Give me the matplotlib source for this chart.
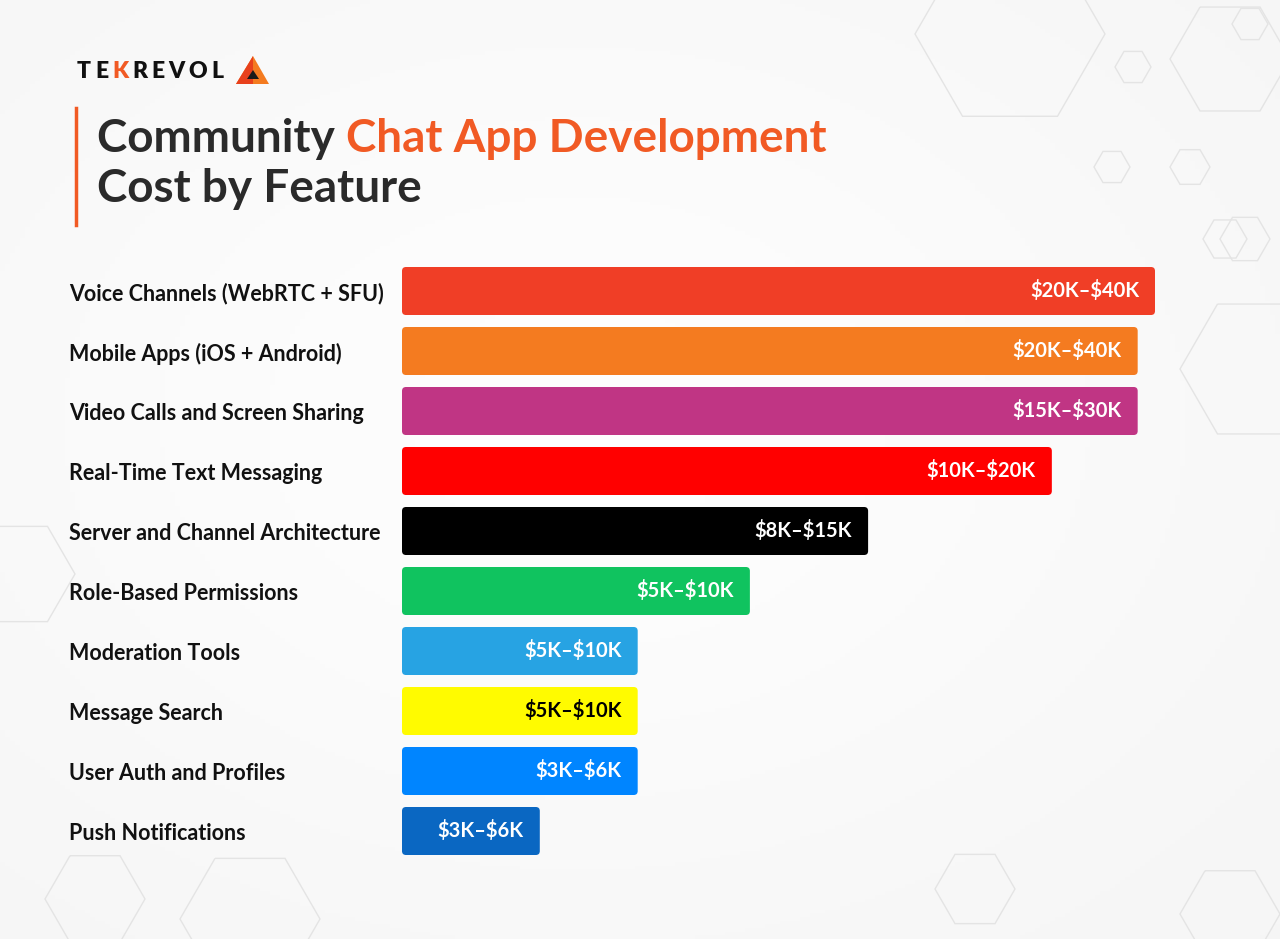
import matplotlib
matplotlib.use('Agg')
import matplotlib.pyplot as plt
from matplotlib.patches import FancyBboxPatch, Polygon, RegularPolygon
from matplotlib.lines import Line2D
import numpy as np

#-------------------------------------------------------------------------------
# Data
#-------------------------------------------------------------------------------
features = ['Voice Channels (WebRTC + SFU)', 'Mobile Apps (iOS + Android)',
            'Video Calls and Screen Sharing', 'Real-Time Text Messaging',
            'Server and Channel Architecture', 'Role-Based Permissions',
            'Moderation Tools', 'Message Search', 'User Auth and Profiles',
            'Push Notifications']
# relative bar length (longest = 100)
scores = [100, 97.7, 97.7, 86.3, 61.9, 46.2, 31.3, 31.3, 31.3, 18.3]
cost_labels = ['$20K–$40K', '$20K–$40K', '$15K–$30K', '$10K–$20K', '$8K–$15K',
               '$5K–$10K', '$5K–$10K', '$5K–$10K', '$3K–$6K', '$3K–$6K']
colors = ['#f03e26', '#f47b20', '#c03584', '#ff0000', '#000000',
          '#10c35f', '#27a3e3', '#fffb00', '#0085ff', '#0a67c2']
text_colors = ['white'] * 7 + ['black'] + ['white'] * 2

FONT = 'Lato'
W, H = 1280, 939
plt.rcParams['text.parse_math'] = False

fig = plt.figure(figsize=(W / 100, H / 100), dpi=100)
fig.patch.set_facecolor('#f4f4f4')

# faint background gradient + hexagons
bg = fig.add_axes([0, 0, 1, 1], zorder=-10)
grad = np.linspace(0, 1, 256)
gx, gy = np.meshgrid(grad, grad)
bg.imshow(0.955 + 0.035 * np.exp(-((gx - 0.45) ** 2 + (gy - 0.45) ** 2) * 3),
          cmap='gray', vmin=0, vmax=1, extent=[0, W, 0, H], aspect='auto')
hexes = [(1010, 905, 95), (1230, 880, 60), (1133, 872, 18), (1255, 570, 75),
         (975, 50, 40), (1230, 25, 50), (1225, 700, 22), (1190, 772, 20),
         (1112, 772, 18), (1245, 700, 25), (20, 365, 55), (1250, 915, 18),
         (95, 40, 50), (250, 20, 70)]
for hx, hy, r in hexes:
    bg.add_patch(RegularPolygon((hx, hy), 6, radius=r, orientation=np.pi / 6,
                                facecolor='none', edgecolor='#e4e4e4', lw=1.0))
bg.set_xlim(0, W)
bg.set_ylim(0, H)
bg.axis('off')

#-------------------------------------------------------------------------------
# Bars
#-------------------------------------------------------------------------------
ax_left, ax_w = 402, 753
ax_top, ax_bot = 261, 861
ax = fig.add_axes([ax_left / W, 1 - ax_bot / H, ax_w / W, (ax_bot - ax_top) / H])
ax.set_xlim(0, 100)
ax.set_ylim(len(features) - 0.5, -0.5)
ax.axis('off')

y = np.arange(len(features))
bars = ax.barh(y, scores, height=0.8, color=colors)

px_x = 100 / ax_w          # data units per pixel (x)
px_y = 1 / 60              # data units per pixel (y)
for bar, c, lab, tc in zip(bars, colors, cost_labels, text_colors):
    bx, by = bar.get_x(), bar.get_y()
    bw, bh = bar.get_width(), bar.get_height()
    bar.remove()
    ax.add_patch(FancyBboxPatch((bx, by), bw, bh,
                                boxstyle='round,pad=0,rounding_size=%f' % (4 * px_x),
                                mutation_aspect=px_y / px_x,
                                facecolor=c, edgecolor='none'))
    ax.text(bx + bw - 16 * px_x, by + bh / 2, lab, ha='right', va='center',
            color=tc, fontsize=14.5, fontweight='bold', family=FONT)

for yi, name in zip(y, features):
    fig.text(69 / W, 1 - (294 + 60 * yi) / H, name, ha='left', va='center',
             fontsize=15.5, fontweight='bold', color='#111111', family=FONT)

#-------------------------------------------------------------------------------
# Title, accent line and logo
#-------------------------------------------------------------------------------
fig.add_artist(Line2D([76 / W, 76 / W], [1 - 108 / H, 1 - 225 / H],
                      color='#f15a24', lw=2.5))

t1 = fig.text(97 / W, 1 - 139 / H, 'Community ', ha='left', va='center',
              fontsize=33, fontweight='bold', color='#2a2a2a', family=FONT)
fig.canvas.draw()
ext = t1.get_window_extent()
fig.text(ext.x1 / W, 1 - 139 / H, 'Chat App Development', ha='left', va='center',
         fontsize=33, fontweight='bold', color='#f15a24', family=FONT)
fig.text(97 / W, 1 - 189 / H, 'Cost by Feature', ha='left', va='center',
         fontsize=33, fontweight='bold', color='#2a2a2a', family=FONT)

# logo: letter-spaced word mark
x_px = 77
for ch in 'TEKREVOL':
    t = fig.text(x_px / W, 1 - 72 / H, ch, ha='left', va='center',
                 fontsize=16.5, fontweight='heavy',
                 color='#f15a24' if ch == 'K' else '#111111', family=FONT)
    fig.canvas.draw()
    x_px = t.get_window_extent().x1 + 4

fig.add_artist(Polygon([[236 / W, 1 - 84 / H], [269 / W, 1 - 84 / H],
                        [253 / W, 1 - 56 / H]], closed=True,
                       facecolor='#f47b20', edgecolor='none'))
fig.add_artist(Polygon([[236 / W, 1 - 84 / H], [253 / W, 1 - 84 / H],
                        [253 / W, 1 - 56 / H]], closed=True,
                       facecolor='#e8401c', edgecolor='none'))
fig.add_artist(Polygon([[247 / W, 1 - 79 / H], [259 / W, 1 - 79 / H],
                        [253 / W, 1 - 70 / H]], closed=True,
                       facecolor='#1a1a1a', edgecolor='none'))

fig.savefig('out.png', dpi=100, facecolor=fig.get_facecolor())
